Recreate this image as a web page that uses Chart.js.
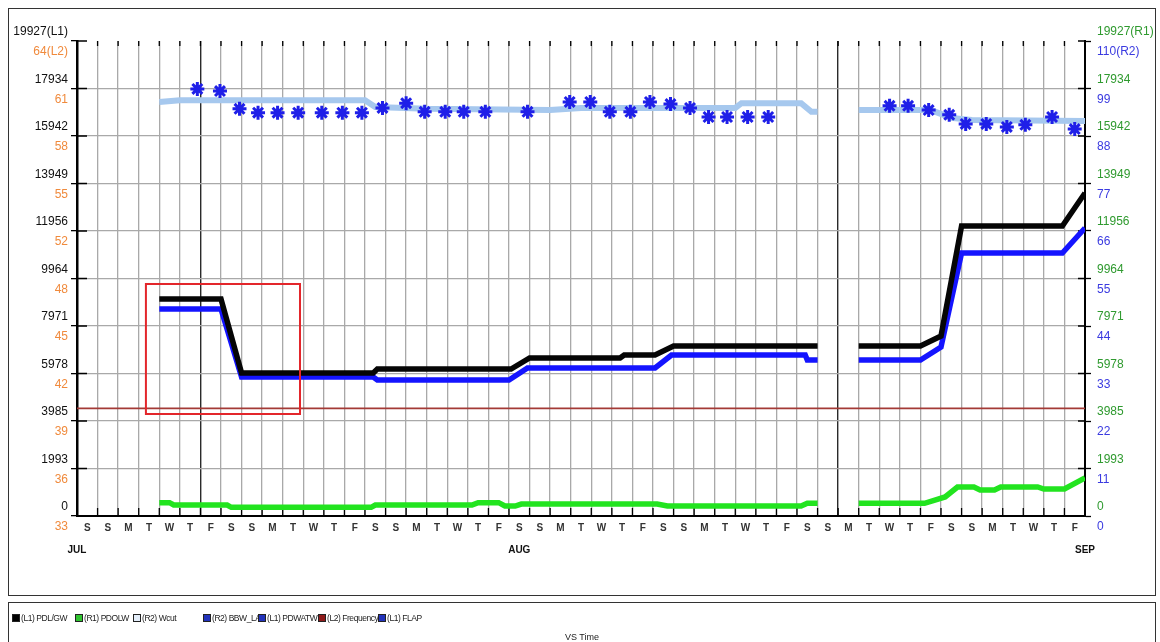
<!DOCTYPE html>
<html>
<head>
<meta charset="utf-8">
<script src="https://cdn.jsdelivr.net/npm/chart.js@4.4.1/dist/chart.umd.min.js"></script>
<style>
  html, body { margin: 0; padding: 0; background: #fff; }
  #wrap { position: relative; width: 1160px; height: 642px; overflow: hidden; font-family: "Liberation Sans", Arial, sans-serif; }
  #c { position: absolute; left: 0; top: 0; }
  #frame { position: absolute; left: 8px; top: 8px; width: 1146px; height: 586px; border: 1px solid #333; pointer-events: none; }
  #legend { position: absolute; left: 8px; top: 602px; width: 1146px; height: 60px; border: 1px solid #333; }
  #items { position: absolute; left: 3px; top: 9px; display: flex; }
  .item { display: flex; align-items: center; overflow: hidden; white-space: nowrap; font-size: 8.5px; letter-spacing: -0.45px; color: #222; height: 12px; }
  .sw { width: 6px; height: 6px; border: 1px solid #222; margin-right: 1px; flex: none; }
  #vs { position: absolute; left: 0; width: 100%; top: 29px; text-align: center; font-size: 9px; color: #222; }
</style>
</head>
<body>
<div id="wrap">
  <canvas id="c" width="1160" height="600"></canvas>
  <div id="frame"></div>
  <div id="legend"><div id="items"></div><div id="vs">VS Time</div></div>
</div>
<script>
// ---- axis labels ----
const dayLabels = [
  'S','S','M','T','W','T','F',
  'S','S','M','T','W','T','F',
  'S','S','M','T','W','T','F',
  'S','S','M','T','W','T','F',
  'S','S','M','T','W','T','F',
  'S','S','M','T','W','T','F',
  'S','S','M','T','W','T','F'
];
const monthTicks = [0, 21.5, 49];
const monthLabels = ['JUL', 'AUG', 'SEP'];
const monthStarts = [6, 37];

const leftL1Labels  = ['0','1993','3985','5978','7971','9964','11956','13949','15942','17934','19927(L1)'];
const leftL2Labels  = ['33','36','39','42','45','48','52','55','58','61','64(L2)'];
const rightR1Labels = ['0','1993','3985','5978','7971','9964','11956','13949','15942','17934','19927(R1)'];
const rightR2Labels = ['0','11','22','33','44','55','66','77','88','99','110(R2)'];

const l1Range = [0, 19927];
const l2Range = [33, 63.9];
const r1Range = [0, 19927];
const r2Range = [0, 110];

// ---- series: [day, value], null marks the data gap ----
const pdlGw = [[4,9103],[7,9103],[8,5999],[14.4,5999],[14.6,6167],[21.1,6167],[22,6628],[26.4,6628],[26.6,6754],[28.1,6754],[29,7132],[36,7132],[37,null],[38,7132],[41,7132],[42,7551],[43,12166],[47.9,12166],[49,13550]];
const pdwatw = [[4,8684],[7,8684],[8,5831],[14.4,5831],[14.6,5705],[21,5705],[21.9,6209],[28.1,6209],[28.9,6754],[35.4,6754],[35.5,6544],[36,6544],[37,null],[38,6544],[41,6544],[42,7090],[43,11033],[47.9,11033],[49,12082]];
const pdolw = [[4,558],[4.5,558],[4.7,461],[7.3,461],[7.5,365],[14.3,365],[14.5,461],[19.2,461],[19.5,558],[20.5,558],[20.8,419],[21.3,419],[21.6,503],[28.2,503],[28.7,419],[35.2,419],[35.5,533],[36,533],[37,null],[38,533],[41.2,533],[42.2,797],[42.8,1217],[43.6,1217],[43.9,1091],[44.6,1091],[44.9,1217],[46.7,1217],[47,1133],[48,1133],[49,1594]];
const wcut = [[4,95.9],[5,96.3],[14,96.3],[14.5,94.7],[17,94.3],[23,94.0],[24.5,94.5],[32,94.5],[32.3,95.6],[35.2,95.6],[35.7,93.6],[36,93.6],[37,null],[38,94.0],[41.5,94.0],[42.5,92.2],[43.5,91.7],[49,91.5]];
const bbwLab = [[5.85,98.9],[6.95,98.4],[7.9,94.3],[8.8,93.4],[9.75,93.4],[10.75,93.4],[11.9,93.4],[12.9,93.4],[13.85,93.4],[14.85,94.5],[16.0,95.6],[16.9,93.6],[17.9,93.6],[18.8,93.6],[19.85,93.6],[21.9,93.6],[23.95,95.9],[24.95,95.9],[25.9,93.6],[26.9,93.6],[27.85,95.9],[28.85,95.4],[29.8,94.5],[30.7,92.4],[31.6,92.4],[32.6,92.4],[33.6,92.4],[39.5,95.0],[40.4,95.0],[41.4,94.0],[42.4,92.9],[43.2,90.8],[44.2,90.8],[45.2,90.1],[46.1,90.6],[47.4,92.4],[48.5,89.6]];
const frequency = [[0,40],[49,40]];
const flap = [];

// highlighted region, in day / L1 units
const focusBox = { x: [3.35, 10.84], y: [4279, 9733] };

const FONT = "'Liberation Sans', Arial, sans-serif";
const toPts = arr => arr.map(([x, y]) => ({ x, y }));
const evenTicks = (range, labels) => labels.map((_, i) => ({ value: range[0] + i * (range[1] - range[0]) / (labels.length - 1) }));

// dark tick marks drawn on the inner side of each axis
const axisMarks = {
  id: 'axisMarks',
  beforeDatasetsDraw(chart) {
    const { ctx, chartArea: a, scales } = chart;
    ctx.save();
    ctx.strokeStyle = '#000';
    ctx.lineWidth = 1.3;
    ctx.beginPath();
    scales.x.ticks.forEach(t => {
      const px = scales.x.getPixelForValue(t.value);
      ctx.moveTo(px, a.bottom); ctx.lineTo(px, a.bottom - 8);
      ctx.moveTo(px, a.top); ctx.lineTo(px, a.top + 5);
    });
    scales.yL1.ticks.forEach(t => {
      const py = scales.yL1.getPixelForValue(t.value);
      ctx.moveTo(a.left, py); ctx.lineTo(a.left + 10, py);
    });
    scales.yR1.ticks.forEach(t => {
      const py = scales.yR1.getPixelForValue(t.value);
      ctx.moveTo(a.right - 7, py); ctx.lineTo(a.right, py);
    });
    ctx.stroke();
    ctx.restore();
  }
};

// second set of tick labels for the L2 and R2 scales
const pairedLabels = {
  id: 'pairedLabels',
  afterDraw(chart) {
    const { ctx, chartArea: a, scales } = chart;
    ctx.save();
    ctx.font = `12px ${FONT}`;
    ctx.textBaseline = 'middle';
    ctx.textAlign = 'right';
    ctx.fillStyle = '#f08a3c';
    evenTicks(l2Range, leftL2Labels).forEach((t, i) => {
      ctx.fillText(leftL2Labels[i], a.left - 9, scales.yL2.getPixelForValue(t.value) + 11);
    });
    ctx.textAlign = 'left';
    ctx.fillStyle = '#3a3ae0';
    evenTicks(r2Range, rightR2Labels).forEach((t, i) => {
      ctx.fillText(rightR2Labels[i], a.right + 12, scales.yR2.getPixelForValue(t.value) + 11);
    });
    ctx.restore();
  }
};

// red outline around the highlighted region
const focusFrame = {
  id: 'focusFrame',
  afterDatasetsDraw(chart) {
    const { ctx, scales } = chart;
    const x0 = scales.x.getPixelForValue(focusBox.x[0]);
    const x1 = scales.x.getPixelForValue(focusBox.x[1]);
    const y0 = scales.yL1.getPixelForValue(focusBox.y[1]);
    const y1 = scales.yL1.getPixelForValue(focusBox.y[0]);
    ctx.save();
    ctx.strokeStyle = '#e3262b';
    ctx.lineWidth = 2;
    ctx.strokeRect(x0, y0, x1 - x0, y1 - y0);
    ctx.restore();
  }
};

const lineBase = { pointRadius: 0, pointHoverRadius: 0, spanGaps: false, tension: 0, fill: false };

const chart = new Chart(document.getElementById('c'), {
  type: 'line',
  data: {
    datasets: [
      { ...lineBase, label: '(L1) PDL/GW', data: toPts(pdlGw), yAxisID: 'yL1', borderColor: '#050505', backgroundColor: '#000', borderWidth: 5.5, order: 2 },
      { ...lineBase, label: '(R1) PDOLW', data: toPts(pdolw), yAxisID: 'yR1', borderColor: '#22e41f', backgroundColor: '#2fc42f', borderWidth: 5.5, order: 3 },
      { ...lineBase, label: '(R2) Wcut', data: toPts(wcut), yAxisID: 'yR2', borderColor: '#a6c8ee', backgroundColor: '#e4eefa', borderWidth: 6, order: 5 },
      { label: '(R2) BBW_LAB', data: toPts(bbwLab), yAxisID: 'yR2', showLine: false, pointStyle: 'star', pointRadius: 7, pointHoverRadius: 7, pointBorderWidth: 3, borderColor: '#1f1fe8', backgroundColor: '#2233bb', order: 1 },
      { ...lineBase, label: '(L1) PDWATW', data: toPts(pdwatw), yAxisID: 'yL1', borderColor: '#1414ff', backgroundColor: '#2233bb', borderWidth: 5.5, order: 2 },
      { ...lineBase, label: '(L2) Frequency', data: toPts(frequency), yAxisID: 'yL2', borderColor: '#a33a36', backgroundColor: '#8e1a1a', borderWidth: 1.6, order: 4 },
      { ...lineBase, label: '(L1) FLAP', data: toPts(flap), yAxisID: 'yL1', borderColor: '#2233bb', backgroundColor: '#2233bb', borderWidth: 2, order: 6 }
    ]
  },
  options: {
    responsive: false,
    animation: false,
    devicePixelRatio: 1,
    events: [],
    layout: { padding: { top: 41, left: 0, right: 0, bottom: 0 } },
    plugins: { legend: { display: false }, tooltip: { enabled: false } },
    scales: {
      x: {
        type: 'linear', position: 'bottom', min: 0, max: dayLabels.length, weight: 0,
        afterBuildTicks: s => { s.ticks = dayLabels.map((_, i) => ({ value: i })).concat([{ value: dayLabels.length }]); },
        afterFit: s => { s.height = 22; },
        ticks: { autoSkip: false, maxRotation: 0, minRotation: 0, labelOffset: 10.3, padding: 6, color: '#333', font: { family: FONT, size: 10, weight: 'bold' }, callback: (v, i) => dayLabels[i] ?? '' },
        grid: {
          drawTicks: false,
          color: c => (c.index === 0 || c.index === dayLabels.length) ? 'rgba(0,0,0,0)' : (monthStarts.includes(c.tick.value) ? '#2a2a2a' : '#a9a9a9'),
          lineWidth: c => monthStarts.includes(c.tick.value) ? 1.4 : 1.3
        },
        border: { display: true, color: '#000', width: 2 }
      },
      xm: {
        type: 'linear', position: 'bottom', min: 0, max: dayLabels.length, weight: 1,
        afterBuildTicks: s => { s.ticks = monthTicks.map(v => ({ value: v })); },
        afterFit: s => { s.height = 62; },
        ticks: { autoSkip: false, maxRotation: 0, minRotation: 0, padding: 6, color: '#111', font: { family: FONT, size: 10, weight: 'bold' }, callback: (v, i) => monthLabels[i] },
        grid: { display: false, drawTicks: false },
        border: { display: false }
      },
      yL1: {
        type: 'linear', position: 'left', min: l1Range[0], max: l1Range[1],
        afterBuildTicks: s => { s.ticks = evenTicks(l1Range, leftL1Labels); },
        afterFit: s => { s.width = 77; },
        ticks: { autoSkip: false, labelOffset: -9, padding: 3, color: '#111', font: { family: FONT, size: 12 }, callback: (v, i) => leftL1Labels[i] },
        grid: {
          color: c => (c.index === 0 || c.index === leftL1Labels.length - 1) ? 'rgba(0,0,0,0)' : '#a9a9a9',
          lineWidth: 1.3, tickColor: '#000', tickLength: 6, tickWidth: 1.3
        },
        border: { display: true, color: '#000', width: 2.5 }
      },
      yL2: { type: 'linear', position: 'left', display: false, min: l2Range[0], max: l2Range[1] },
      yR1: {
        type: 'linear', position: 'right', min: r1Range[0], max: r1Range[1],
        afterBuildTicks: s => { s.ticks = evenTicks(r1Range, rightR1Labels); },
        afterFit: s => { s.width = 75; },
        ticks: { autoSkip: false, labelOffset: -9, padding: 6, color: '#2f9a2f', font: { family: FONT, size: 12 }, callback: (v, i) => rightR1Labels[i] },
        grid: { drawOnChartArea: false, tickColor: '#000', tickLength: 6, tickWidth: 1.3 },
        border: { display: true, color: '#000', width: 2 }
      },
      yR2: { type: 'linear', position: 'right', display: false, min: r2Range[0], max: r2Range[1] }
    }
  },
  plugins: [axisMarks, focusFrame, pairedLabels]
});

// legend strip built from the chart's datasets
const legendWidths = [63, 58, 70, 55, 60, 60, 80];
const items = document.getElementById('items');
chart.data.datasets.forEach((ds, i) => {
  const it = document.createElement('div');
  it.className = 'item';
  it.style.width = legendWidths[i] + 'px';
  const sw = document.createElement('span');
  sw.className = 'sw';
  sw.style.background = ds.backgroundColor;
  const tx = document.createElement('span');
  tx.textContent = ds.label;
  it.appendChild(sw);
  it.appendChild(tx);
  items.appendChild(it);
});
</script>
</body>
</html>
